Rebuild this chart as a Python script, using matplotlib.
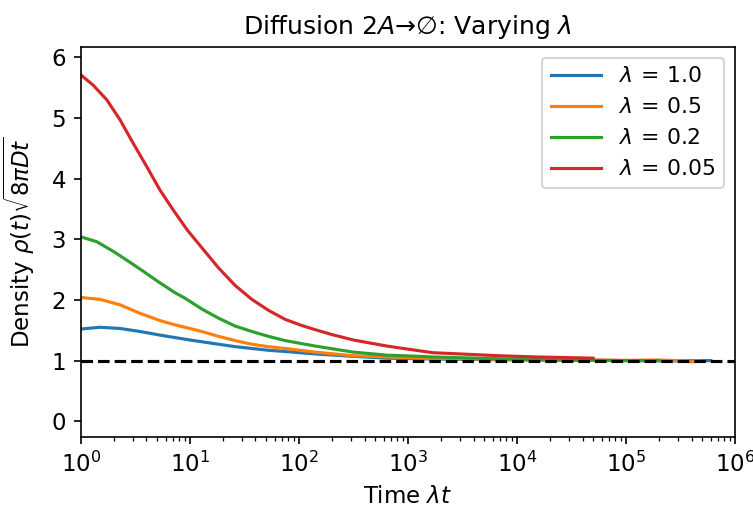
import numpy as np
import matplotlib
matplotlib.use('Agg')
import matplotlib.pyplot as plt

plt.rcParams['font.size'] = 11

# values
t_blue = [1, 1.5, 2.29, 3.49, 5.33, 7.3, 10, 12.9, 18.3, 26, 37, 52.5, 74.7, 141, 316, 640, 1290,
          3000, 1e4, 3e4, 1e5, 3e5, 6e5]
y_blue = [1.52, 1.55, 1.53, 1.48, 1.42, 1.38, 1.34, 1.31, 1.27, 1.23, 1.20, 1.17, 1.15, 1.11, 1.07, 1.04, 1.03,
          1.02, 1.01, 1.005, 1.0, 0.995, 1.0]

t_orange = [1, 1.5, 2.29, 3.49, 5.33, 7.3, 10, 12.9, 18.3, 26, 37, 52.5, 74.7, 141, 316, 640, 1290,
            3000, 6900, 2e4, 5e4, 1e5, 2e5, 3e5, 4e5, 4.6e5]
y_orange = [2.04, 2.01, 1.92, 1.78, 1.66, 1.59, 1.53, 1.48, 1.40, 1.33, 1.27, 1.23, 1.20, 1.14, 1.08, 1.06, 1.04,
            1.03, 1.02, 1.01, 1.01, 1.005, 1.01, 1.0, 0.98, 0.99]

t_green = [1, 1.4, 1.99, 2.83, 3.62, 5.14, 7.3, 9, 12.9, 18.3, 26, 37, 52.5, 74.7, 141, 316, 640, 1290,
           1700, 6900, 3e4, 1e5, 2e5]
y_green = [3.04, 2.96, 2.80, 2.62, 2.49, 2.30, 2.12, 2.03, 1.85, 1.70, 1.57, 1.48, 1.40, 1.33, 1.24, 1.14, 1.09, 1.07,
           1.06, 1.03, 1.01, 1.0, 1.0]

t_red = [1, 1.3, 1.73, 2.29, 3.03, 4.02, 5.33, 7.06, 9.5, 12.9, 18.3, 26, 37, 52.5, 74.7, 106, 141, 200,
         316, 640, 1290, 1700, 3000, 6900, 1.5e4, 2.9e4, 5e4]
y_red = [5.71, 5.54, 5.30, 4.97, 4.58, 4.20, 3.81, 3.48, 3.15, 2.86, 2.53, 2.24, 2.01, 1.83, 1.68, 1.58, 1.51, 1.43,
         1.34, 1.24, 1.16, 1.13, 1.11, 1.08, 1.06, 1.05, 1.04]

labels = [r'$\lambda\,=\,1.0$', r'$\lambda\,=\,0.5$', r'$\lambda\,=\,0.2$', r'$\lambda\,=\,0.05$']

fig = plt.figure(figsize=(7.53/1.5, 5.07/1.5), dpi=150)
ax = fig.add_axes([0.1073, 0.138, 0.8688, 0.7699])

ax.semilogx(t_blue, y_blue, color='tab:blue', label=labels[0])
ax.semilogx(t_orange, y_orange, color='tab:orange', label=labels[1])
ax.semilogx(t_green, y_green, color='tab:green', label=labels[2])
ax.semilogx(t_red, y_red, color='tab:red', label=labels[3])
ax.axhline(1.0, color='k', linestyle='--')

ax.set_xlim(1, 1e6)
ax.set_ylim(-0.26, 6.175)
ax.set_yticks([0, 1, 2, 3, 4, 5, 6])
ax.set_xlabel(r'Time $\lambda t$')
ax.set_ylabel(r'Density $\rho(t)\sqrt{8\pi D t}$')
ax.yaxis.set_label_coords(-0.067, 0.5)
ax.set_title('Diffusion $2A$→∅: Varying $\\lambda$', fontsize=12)
ax.legend(loc='upper right', fontsize=10.5, handlelength=2.3)

fig.savefig('out.png', dpi=150)
